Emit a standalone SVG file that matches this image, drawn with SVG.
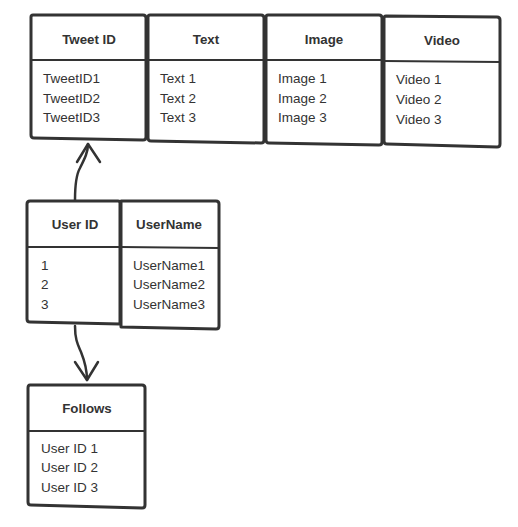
<svg xmlns="http://www.w3.org/2000/svg" width="518" height="527" viewBox="0 0 518 527">
<style>
.box{fill:#fff;stroke:#333;stroke-width:3;stroke-linejoin:round}
.div{stroke:#333;stroke-width:2;fill:none}
.hd{font-family:"Liberation Sans",Arial,sans-serif;font-size:13.3px;font-weight:bold;fill:#333;text-anchor:middle}
.bd{font-family:"Liberation Sans",Arial,sans-serif;font-size:13.5px;fill:#333}
.con{stroke:#333;stroke-width:2.5;fill:none;stroke-linecap:round;stroke-linejoin:round}
</style>
<rect width="518" height="527" fill="#fff"/>
<g id="tweetid">
<path class="box" d="M33,15 L143,15 Q146,15 146,18 L146,137 Q146,140 143,140 L34,138 Q31,138 31,135 L31,17 Q31,15 33,15 Z"/>
<path class="div" d="M31,60 L146,60"/>
<text class="hd" x="89" y="44">Tweet ID</text>
<text class="bd" x="43" y="83">TweetID1</text>
<text class="bd" x="43" y="103">TweetID2</text>
<text class="bd" x="43" y="122">TweetID3</text>
</g>
<g id="text">
<path class="box" d="M150,15 L261,15 Q264,15 264,18 L264,140 Q264,143 261,143 L151,141 Q148,141 148,138 L148,17 Q148,15 150,15 Z"/>
<path class="div" d="M148,60 L264,60"/>
<text class="hd" x="206" y="44">Text</text>
<text class="bd" x="160" y="83">Text 1</text>
<text class="bd" x="160" y="103">Text 2</text>
<text class="bd" x="160" y="122">Text 3</text>
</g>
<g id="image">
<path class="box" d="M268,15 L379,15 Q382,15 382,18 L382,142 Q382,145 379,145 L269,143 Q266,143 266,140 L266,17 Q266,15 268,15 Z"/>
<path class="div" d="M266,60 L382,60"/>
<text class="hd" x="324" y="44">Image</text>
<text class="bd" x="278" y="83">Image 1</text>
<text class="bd" x="278" y="103">Image 2</text>
<text class="bd" x="278" y="122">Image 3</text>
</g>
<g id="video">
<path class="box" d="M386,16 L497,17 Q500,17 500,20 L500,144 Q500,147 497,147 L387,144 Q384,144 384,141 L384,18 Q384,16 386,16 Z"/>
<path class="div" d="M384,61 L500,62"/>
<text class="hd" x="442" y="45">Video</text>
<text class="bd" x="396" y="84">Video 1</text>
<text class="bd" x="396" y="104">Video 2</text>
<text class="bd" x="396" y="124">Video 3</text>
</g>
<g id="userid">
<path class="box" d="M30,201 L118,201 Q120,201 120,203 L120,324 L30,322 Q27,322 27,319 L27,204 Q27,201 30,201 Z"/>
<path class="div" d="M27,247 L120,247"/>
<text class="hd" x="75" y="229">User ID</text>
<text class="bd" x="41" y="270">1</text>
<text class="bd" x="41" y="289">2</text>
<text class="bd" x="41" y="309">3</text>
</g>
<g id="username">
<path class="box" d="M121,201 L216,201 Q219,201 219,204 L219,326 Q219,329 216,329 L121,327 Z"/>
<path class="div" d="M121,247 L219,248"/>
<text class="hd" x="169" y="229">UserName</text>
<text class="bd" x="133" y="270">UserName1</text>
<text class="bd" x="133" y="289">UserName2</text>
<text class="bd" x="133" y="309">UserName3</text>
</g>
<g id="follows">
<path class="box" d="M30,385 L142,385 Q145,385 145,388 L145,505 Q145,508 142,508 L31,505 Q28,505 28,502 L28,388 Q28,385 30,385 Z"/>
<path class="div" d="M28,431 L145,431"/>
<text class="hd" x="87" y="413">Follows</text>
<text class="bd" x="41" y="453">User ID 1</text>
<text class="bd" x="41" y="472">User ID 2</text>
<text class="bd" x="41" y="492">User ID 3</text>
</g>
<g id="connectors">
<path class="con" d="M75,200 C75,185 76,175 80,168 C85,158 88,152 88,144"/>
<path class="con" d="M77,162 L88,144 L100,162"/>
<path class="con" d="M75,326 C75,340 78,345 81,352 C85,362 87,370 87,380"/>
<path class="con" d="M75,362 L87,380 L98,362"/>
</g>
</svg>
